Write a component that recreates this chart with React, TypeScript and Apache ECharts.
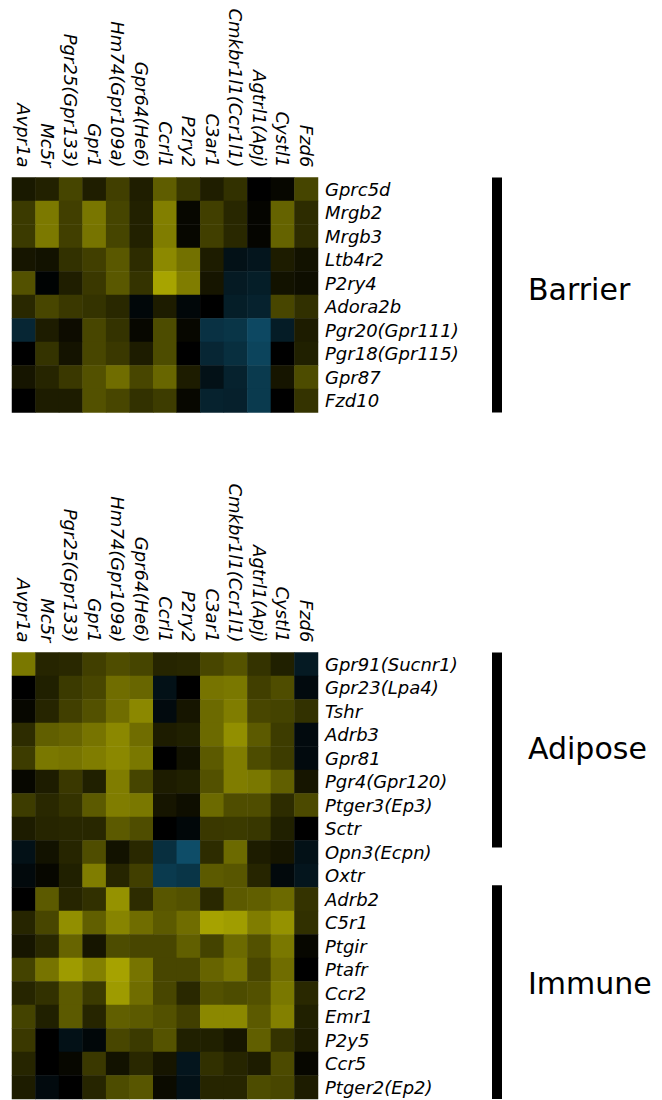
import React, { useEffect, useRef } from "react";
import * as echarts from "echarts";

// ---------- data ----------
const columns = [
  "Avpr1a", "Mc5r", "Pgr25(Gpr133)", "Gpr1", "Hm74(Gpr109a)", "Gpr64(He6)", "Ccrl1",
  "P2ry2", "C3ar1", "Cmkbr1l1(Ccr1l1)", "Agtrl1(Apj)", "Cystl1", "Fzd6",
];

const barrierRows = [
  "Gprc5d", "Mrgb2", "Mrgb3", "Ltb4r2", "P2ry4", "Adora2b",
  "Pgr20(Gpr111)", "Pgr18(Gpr115)", "Gpr87", "Fzd10",
];

const barrierValues = [
  [0.14, 0.19, 0.39, 0.17, 0.36, 0.17, 0.53, 0.31, 0.17, 0.28, 0.0, 0.04, 0.39],
  [0.33, 0.69, 0.36, 0.67, 0.39, 0.19, 0.72, 0.04, 0.36, 0.22, 0.03, 0.56, 0.25],
  [0.33, 0.69, 0.36, 0.66, 0.39, 0.19, 0.71, 0.04, 0.36, 0.23, 0.03, 0.56, 0.25],
  [0.12, 0.1, 0.28, 0.36, 0.5, 0.25, 0.78, 0.64, 0.16, -0.2, -0.25, 0.16, 0.1],
  [0.46, -0.03, 0.17, 0.32, 0.5, 0.29, 0.93, 0.71, 0.12, -0.3, -0.35, 0.1, 0.08],
  [0.23, 0.4, 0.32, 0.29, 0.23, -0.08, 0.16, -0.08, 0.0, -0.35, -0.4, 0.4, 0.27],
  [-0.45, 0.16, 0.07, 0.4, 0.29, 0.04, 0.43, 0.04, -0.58, -0.62, -0.85, -0.33, 0.16],
  [0.0, 0.29, 0.11, 0.4, 0.32, 0.16, 0.43, 0.0, -0.45, -0.55, -0.8, 0.0, 0.18],
  [0.12, 0.21, 0.32, 0.46, 0.62, 0.4, 0.58, 0.16, -0.2, -0.4, -0.68, 0.12, 0.43],
  [0.0, 0.16, 0.16, 0.46, 0.4, 0.28, 0.34, 0.04, -0.4, -0.38, -0.68, 0.0, 0.29],
];

const adiposeRows = [
  "Gpr91(Sucnr1)", "Gpr23(Lpa4)", "Tshr", "Adrb3", "Gpr81", "Pgr4(Gpr120)",
  "Ptger3(Ep3)", "Sctr", "Opn3(Ecpn)", "Oxtr",
];

const adiposeValues = [
  [0.68, 0.21, 0.23, 0.36, 0.44, 0.39, 0.21, 0.22, 0.4, 0.47, 0.29, 0.18, -0.3],
  [0.0, 0.18, 0.33, 0.4, 0.62, 0.58, -0.2, 0.0, 0.66, 0.68, 0.36, 0.44, -0.12],
  [0.04, 0.21, 0.36, 0.46, 0.62, 0.77, -0.12, 0.12, 0.6, 0.71, 0.4, 0.38, 0.28],
  [0.25, 0.54, 0.57, 0.66, 0.77, 0.62, 0.16, 0.18, 0.6, 0.81, 0.51, 0.34, -0.12],
  [0.34, 0.68, 0.66, 0.71, 0.77, 0.68, 0.0, 0.1, 0.51, 0.71, 0.43, 0.34, -0.12],
  [0.04, 0.16, 0.32, 0.18, 0.71, 0.39, 0.16, 0.18, 0.46, 0.71, 0.68, 0.54, 0.12],
  [0.34, 0.23, 0.29, 0.51, 0.71, 0.68, 0.12, 0.08, 0.6, 0.44, 0.44, 0.25, 0.42],
  [0.16, 0.21, 0.22, 0.22, 0.51, 0.44, 0.0, -0.08, 0.32, 0.33, 0.31, 0.18, 0.0],
  [-0.2, 0.1, 0.21, 0.44, 0.1, 0.23, -0.55, -0.9, 0.25, 0.6, 0.16, 0.12, -0.2],
  [-0.1, 0.04, 0.18, 0.71, 0.21, 0.36, -0.68, -0.62, 0.51, 0.49, 0.21, -0.1, -0.25],
];

const immuneRows = [
  "Adrb2", "C5r1", "Ptgir", "Ptafr", "Ccr2", "Emr1", "P2y5", "Ccr5", "Ptger2(Ep2)",
];

const immuneValues = [
  [0.0, 0.51, 0.21, 0.27, 0.83, 0.25, 0.49, 0.46, 0.23, 0.51, 0.54, 0.6, 0.29],
  [0.21, 0.4, 0.81, 0.54, 0.75, 0.62, 0.51, 0.62, 0.92, 0.89, 0.71, 0.83, 0.27],
  [0.12, 0.23, 0.57, 0.12, 0.43, 0.4, 0.4, 0.54, 0.38, 0.6, 0.46, 0.68, 0.04],
  [0.38, 0.66, 0.88, 0.73, 0.92, 0.66, 0.4, 0.4, 0.57, 0.66, 0.4, 0.62, 0.0],
  [0.21, 0.28, 0.51, 0.33, 0.88, 0.62, 0.4, 0.23, 0.46, 0.43, 0.46, 0.68, 0.23],
  [0.38, 0.18, 0.51, 0.21, 0.54, 0.51, 0.46, 0.36, 0.77, 0.77, 0.51, 0.73, 0.18],
  [0.32, 0.0, -0.2, -0.08, 0.4, 0.33, 0.47, 0.18, 0.18, 0.12, 0.54, 0.29, 0.16],
  [0.21, 0.0, 0.04, 0.32, 0.1, 0.23, 0.12, -0.25, 0.27, 0.21, 0.16, 0.42, 0.04],
  [0.16, -0.12, 0.0, 0.21, 0.43, 0.49, 0.06, -0.2, 0.21, 0.21, 0.43, 0.4, 0.16],
];

// ---------- layout ----------
const W = 662;
const H = 1100;
const GRID_LEFT = 12;
const GRID_W = 306;
const ROW_H = 23.5;
const TOP1 = 177.5;
const TOP2 = 652.5;
const FONT = "DejaVu Sans";

function toCells(values: number[][]) {
  const out: number[][] = [];
  values.forEach((row, r) => row.forEach((v, c) => out.push([c, r, v])));
  return out;
}

export default function App() {
  const ref = useRef<HTMLDivElement>(null);

  useEffect(() => {
    if (!ref.current) return;
    const chart = echarts.init(ref.current, undefined, { renderer: "svg" });
    const bottomRows = [...adiposeRows, ...immuneRows];
    const bottomValues = [...adiposeValues, ...immuneValues];

    const labelStyle = {
      fontFamily: FONT,
      fontStyle: "italic" as const,
      fontSize: 18,
      color: "#000",
    };

    const xAxisBase = (gridIndex: number) => ({
      type: "category" as const,
      gridIndex,
      data: columns,
      position: "top" as const,
      axisLine: { show: false },
      axisTick: { show: false },
      splitLine: { show: false },
      axisLabel: { ...labelStyle, rotate: 90, interval: 0, margin: 10 },
    });
    const yAxisBase = (gridIndex: number, data: string[]) => ({
      type: "category" as const,
      gridIndex,
      data,
      inverse: true,
      position: "right" as const,
      axisLine: { show: false },
      axisTick: { show: false },
      splitLine: { show: false },
      axisLabel: { ...labelStyle, interval: 0, margin: 7 },
    });

    const barX = 492;
    const barW = 10;
    const textX = 528;
    const bars = [
      { y0: TOP1, y1: TOP1 + barrierRows.length * ROW_H },
      { y0: TOP2, y1: TOP2 + 8.3 * ROW_H },
      { y0: TOP2 + 9.9 * ROW_H, y1: TOP2 + bottomRows.length * ROW_H },
    ];
    const groupLabels = ["Barrier", "Adipose", "Immune"];
    const labelY = [289, 748, 983];

    const graphic: any[] = [];
    bars.forEach((b) =>
      graphic.push({
        type: "rect",
        shape: { x: barX, y: b.y0, width: barW, height: b.y1 - b.y0 },
        style: { fill: "#000" },
        silent: true,
      })
    );
    groupLabels.forEach((t, i) =>
      graphic.push({
        type: "text",
        x: textX,
        y: labelY[i],
        style: {
          text: t,
          fontFamily: FONT,
          fontSize: 30,
          fill: "#000",
          verticalAlign: "middle",
          align: "left",
        },
        silent: true,
      })
    );

    chart.setOption({
      animation: false,
      backgroundColor: "#fff",
      grid: [
        { left: GRID_LEFT, top: TOP1, width: GRID_W, height: barrierRows.length * ROW_H },
        { left: GRID_LEFT, top: TOP2, width: GRID_W, height: bottomRows.length * ROW_H },
      ],
      xAxis: [xAxisBase(0), xAxisBase(1)],
      yAxis: [yAxisBase(0, barrierRows), yAxisBase(1, bottomRows)],
      visualMap: {
        type: "continuous",
        show: false,
        min: -1,
        max: 1,
        seriesIndex: [0, 1],
        inRange: { color: ["#0f5573", "#000000", "#b4b000"] },
      },
      series: [
        {
          type: "heatmap",
          xAxisIndex: 0,
          yAxisIndex: 0,
          data: toCells(barrierValues),
          itemStyle: { borderWidth: 0 },
          emphasis: { disabled: true },
        },
        {
          type: "heatmap",
          xAxisIndex: 1,
          yAxisIndex: 1,
          data: toCells(bottomValues),
          itemStyle: { borderWidth: 0 },
          emphasis: { disabled: true },
        },
      ],
      graphic,
    });

    return () => chart.dispose();
  }, []);

  return (
    <div
      ref={ref}
      style={{ position: "absolute", left: 0, top: 0, width: W, height: H }}
    />
  );
}
